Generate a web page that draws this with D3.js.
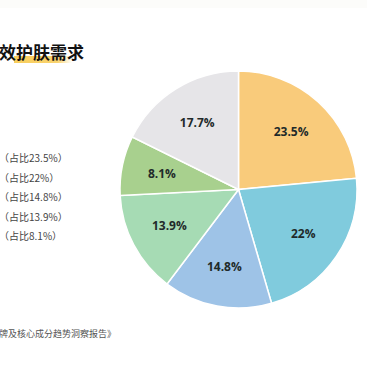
<!DOCTYPE html>
<html><head><meta charset="utf-8">
<script src="https://cdn.jsdelivr.net/npm/d3@7"></script>
<style>html,body{margin:0;padding:0;background:#fff;overflow:hidden}</style>
</head><body><svg id="c" width="367" height="367"></svg>
<script>
const categories = ["A","B","C","D","E","F"];
const values = [23.5, 22, 14.8, 13.9, 8.1, 17.7];
const labels = ["23.5%","22%","14.8%","13.9%","8.1%","17.7%"];
const colors = ["#F9CB7B","#80CBDD","#9EC3E7","#A6DBB4","#A8D08E","#E6E5E8"];
const legendTexts = ["（占比23.5%）","（占比22%）","（占比14.8%）","（占比13.9%）","（占比8.1%）"];
const titleText = "效护肤需求";
const sourceText = "牌及核心成分趋势洞察报告》";

const svg = d3.select("#c");
svg.append("rect").attr("width",367).attr("height",367).attr("fill","#fff");
svg.append("rect").attr("width",367).attr("height",8).attr("fill","#FCFCFA");

// title
const grad = svg.append("defs").append("linearGradient").attr("id","hl");
grad.append("stop").attr("offset","0").attr("stop-color","#F7C84A").attr("stop-opacity",0.9);
grad.append("stop").attr("offset","0.75").attr("stop-color","#F7C84A").attr("stop-opacity",0.8);
grad.append("stop").attr("offset","1").attr("stop-color","#F7C84A").attr("stop-opacity",0);
svg.append("rect").attr("x",14).attr("y",56).attr("width",58).attr("height",7).attr("fill","url(#hl)");
svg.append("text").attr("x",-1).attr("y",59).attr("font-family","Noto Sans CJK SC").attr("font-weight","bold")
  .attr("font-size",17).attr("fill","#111").text(titleText);

// legend texts
const ly = d3.scalePoint().domain(d3.range(legendTexts.length)).range([162,240]);
svg.selectAll("text.lg").data(legendTexts).join("text").attr("class","lg")
  .attr("x",-1).attr("y",(d,i)=>ly(i)).attr("font-family","Noto Sans CJK SC")
  .attr("font-size",10).attr("fill","#444").text(d=>d);

svg.append("text").attr("x",-1).attr("y",337).attr("font-family","Noto Sans CJK SC")
  .attr("font-size",9).attr("fill","#555").text(sourceText);

// pie
const cx=238.5, cy=189.5, R=118.5;
const g = svg.append("g").attr("transform",`translate(${cx},${cy})`);
const pie = d3.pie().sort(null).value(d=>d);
const arc = d3.arc().innerRadius(0).outerRadius(R);
const labelArc = d3.arc().innerRadius(R*0.66).outerRadius(R*0.66);
const arcs = pie(values);
g.selectAll("path").data(arcs).join("path").attr("d",arc)
  .attr("fill",(d,i)=>colors[i]).attr("stroke","#fff").attr("stroke-width",1.5);
g.selectAll("text").data(arcs).join("text")
  .attr("transform",d=>`translate(${labelArc.centroid(d)})`)
  .attr("text-anchor","middle").attr("dy","0.35em")
  .attr("font-family","Open Sans, Noto Sans").attr("font-weight","bold")
  .attr("font-size",12).attr("fill","#1f2a2a").text((d,i)=>labels[i]);
</script></body></html>
